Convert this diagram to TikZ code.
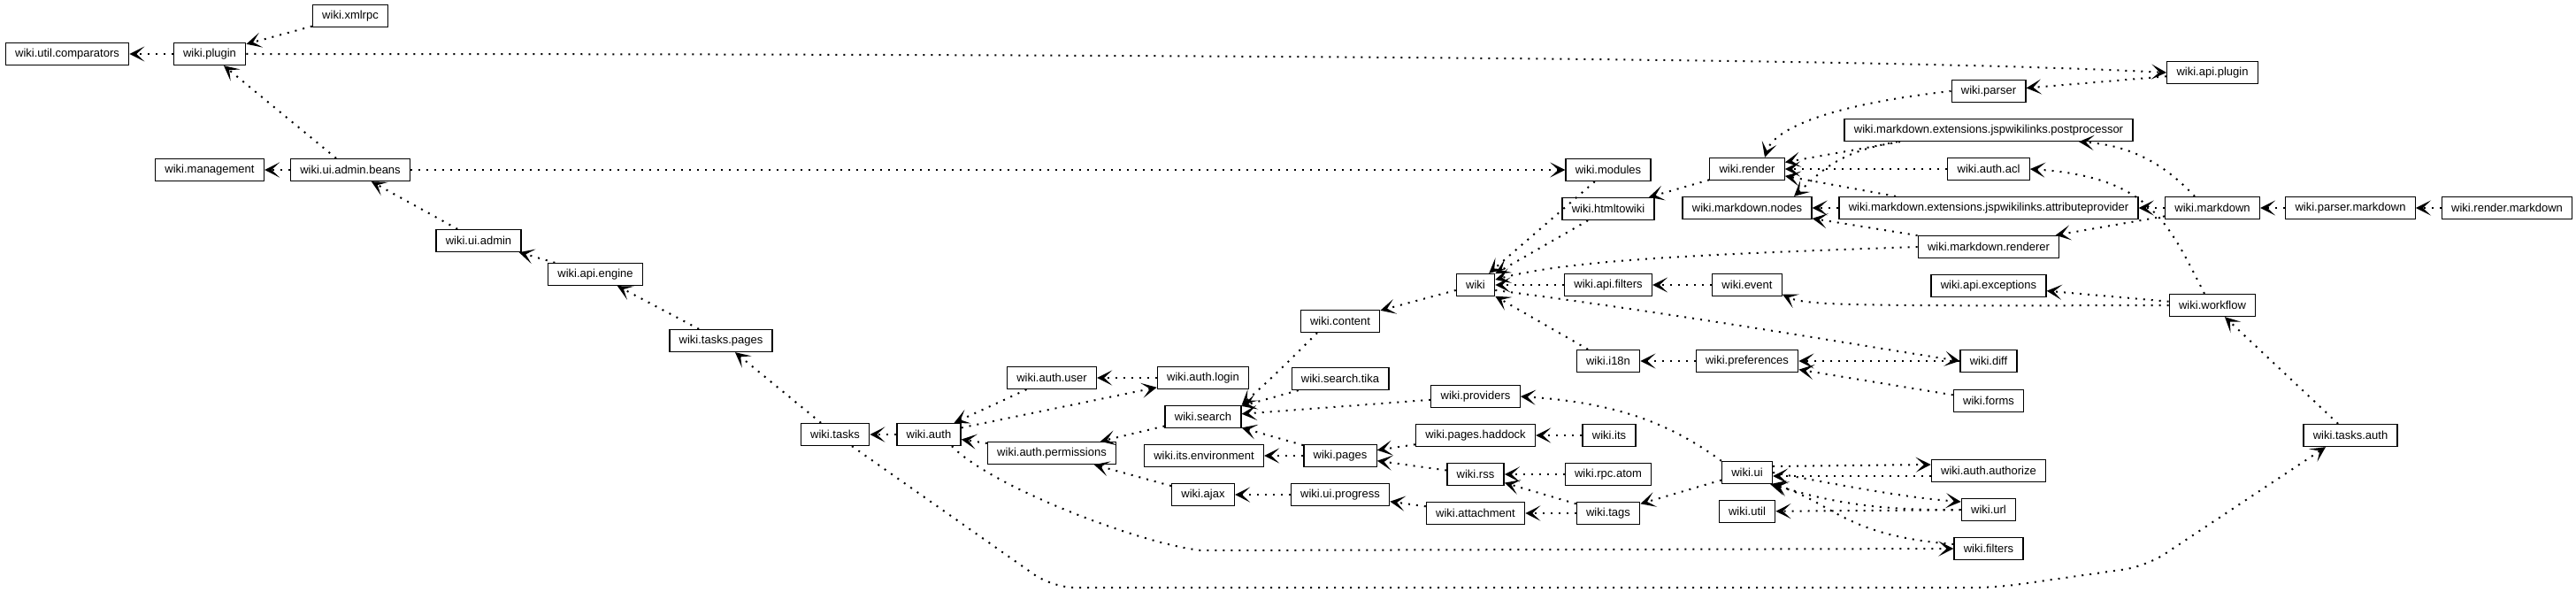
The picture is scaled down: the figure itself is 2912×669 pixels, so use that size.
\documentclass[tikz,border=0pt]{standalone}
\usepackage{fontspec}
\setmainfont{Liberation Sans}
\usetikzlibrary{arrows.meta}
\begin{document}
\begin{tikzpicture}[x=1pt,y=-1pt,
  pkg/.style={draw, line width=1.3pt, rectangle, minimum height=25pt, inner xsep=10.8pt, inner ysep=0pt, fill=white, font=\fontsize{13}{15}\selectfont},
  dep/.style={line width=2pt, dash pattern=on 2pt off 7pt, -{Stealth[length=17pt,width=17pt,inset=9pt]}}]
\fill[white] (0,0) rectangle (2912,669);
\useasboundingbox (0,0) rectangle (2912,669);

% nodes
\node[pkg] (comparators) at (76,61) {wiki.util.comparators};
\node[pkg] (plugin) at (237,61) {wiki.plugin};
\node[pkg] (xmlrpc) at (396,18) {wiki.xmlrpc};
\node[pkg] (management) at (237,192) {wiki.management};
\node[pkg] (uiadminbeans) at (396,192) {wiki.ui.admin.beans};
\node[pkg] (uiadmin) at (541,272) {wiki.ui.admin};
\node[pkg] (apiengine) at (673,310) {wiki.api.engine};
\node[pkg] (taskspages) at (815,385) {wiki.tasks.pages};
\node[pkg] (tasks) at (944,491) {wiki.tasks};
\node[pkg] (auth) at (1050,491) {wiki.auth};
\node[pkg] (authuser) at (1189,427) {wiki.auth.user};
\node[pkg] (authperm) at (1189,512) {wiki.auth.permissions};
\node[pkg] (authlogin) at (1360,427) {wiki.auth.login};
\node[pkg] (search) at (1360,471) {wiki.search};
\node[pkg] (itsenv) at (1361,515) {wiki.its.environment};
\node[pkg] (ajax) at (1360,559) {wiki.ajax};
\node[pkg] (content) at (1515,363) {wiki.content};
\node[pkg] (searchtika) at (1515,428) {wiki.search.tika};
\node[pkg] (pages) at (1515,515) {wiki.pages};
\node[pkg] (uiprogress) at (1515,559) {wiki.ui.progress};
\node[pkg] (wiki) at (1668,322) {wiki};
\node[pkg] (providers) at (1668,448) {wiki.providers};
\node[pkg] (haddock) at (1668,492) {wiki.pages.haddock};
\node[pkg] (rss) at (1668,536) {wiki.rss};
\node[pkg] (attachment) at (1668,580) {wiki.attachment};
\node[pkg] (modules) at (1818,192) {wiki.modules};
\node[pkg] (htmltowiki) at (1818,236) {wiki.htmltowiki};
\node[pkg] (apifilters) at (1818,322) {wiki.api.filters};
\node[pkg] (i18n) at (1818,408) {wiki.i18n};
\node[pkg] (its) at (1819,492) {wiki.its};
\node[pkg] (rpcatom) at (1818,536) {wiki.rpc.atom};
\node[pkg] (tags) at (1818,580) {wiki.tags};
\node[pkg] (render) at (1975,191) {wiki.render};
\node[pkg] (mdnodes) at (1975,235) {wiki.markdown.nodes};
\node[pkg] (event) at (1975,322) {wiki.event};
\node[pkg] (preferences) at (1975,408) {wiki.preferences};
\node[pkg] (ui) at (1975,534) {wiki.ui};
\node[pkg] (util) at (1975,578) {wiki.util};
\node[pkg] (parser) at (2248,103) {wiki.parser};
\node[pkg] (postproc) at (2248,147) {wiki.markdown.extensions.jspwikilinks.postprocessor};
\node[pkg] (authacl) at (2248,191) {wiki.auth.acl};
\node[pkg] (attrprov) at (2248,235) {wiki.markdown.extensions.jspwikilinks.attributeprovider};
\node[pkg] (mdrenderer) at (2248,279) {wiki.markdown.renderer};
\node[pkg] (apiexceptions) at (2248,323) {wiki.api.exceptions};
\node[pkg] (diff) at (2248,408) {wiki.diff};
\node[pkg] (forms) at (2248,453) {wiki.forms};
\node[pkg] (authorize) at (2248,532) {wiki.auth.authorize};
\node[pkg] (url) at (2248,576) {wiki.url};
\node[pkg] (filters) at (2248,620) {wiki.filters};
\node[pkg] (apiplugin) at (2501,82) {wiki.api.plugin};
\node[pkg] (markdown) at (2501,235) {wiki.markdown};
\node[pkg] (workflow) at (2501,345) {wiki.workflow};
\node[pkg] (parsermarkdown) at (2657,235) {wiki.parser.markdown};
\node[pkg] (tasksauth) at (2657,492) {wiki.tasks.auth};
\node[pkg] (rendermarkdown) at (2834,235) {wiki.render.markdown};

% edges
\draw[dep] (plugin) -- (comparators);
\draw[dep] (xmlrpc) -- (plugin);
\draw[dep] (plugin.east) .. controls (1800,61) and (2250,72) .. (apiplugin.west);
\draw[dep] (uiadminbeans) -- (plugin);
\draw[dep] (uiadminbeans) -- (management);
\draw[dep] (uiadminbeans) -- (modules);
\draw[dep] (uiadmin) -- (uiadminbeans);
\draw[dep] (apiengine) -- (uiadmin);
\draw[dep] (taskspages) -- (apiengine);
\draw[dep] (tasks) -- (taskspages);
\draw[dep] (auth) -- (tasks);
\draw[dep] (authuser) -- (auth);
\draw[dep] (authlogin) -- (authuser);
\draw[dep] (auth) -- (authlogin);
\draw[dep] (authperm) -- (auth);
\draw[dep] (search) -- (authperm);
\draw[dep] (ajax) -- (authperm);
\draw[dep] (searchtika) -- (search);
\draw[dep] ([xshift=-26pt]content.south) .. controls (1445,420) .. (search.north east);
\draw[dep] (providers) -- (search);
\draw[dep] (pages) -- (search);
\draw[dep] (pages) -- (itsenv);
\draw[dep] (haddock) -- (pages);
\draw[dep] (its) -- (haddock);
\draw[dep] (rss) -- (pages);
\draw[dep] (rpcatom) -- (rss);
\draw[dep] (tags) -- (rss);
\draw[dep] (tags) -- (attachment);
\draw[dep] (attachment) -- (uiprogress);
\draw[dep] (uiprogress) -- (ajax);
\draw[dep] (ui.north west) .. controls (1890,480) and (1830,455) .. (providers.east);
\draw[dep] (ui) -- (tags);
\draw[dep] (wiki) -- (content);
\draw[dep] (modules) -- (wiki);
\draw[dep] (htmltowiki) -- (wiki);
\draw[dep] (render) -- (htmltowiki);
\draw[dep] (mdrenderer.west) .. controls (1900,288) and (1770,295) .. (wiki.15);
\draw[dep] (apifilters) -- (wiki);
\draw[dep] (event) -- (apifilters);
\draw[dep] (wiki.-15) .. controls (1900,355) and (2100,390) .. (diff.west);
\draw[dep] (i18n) -- (wiki);
\draw[dep] (diff) -- (preferences);
\draw[dep] (forms) -- (preferences);
\draw[dep] (preferences) -- (i18n);
\draw[dep] (parser.west) .. controls (2070,118) and (2005,145) .. ([xshift=20pt]render.north);
\draw[dep] (apiplugin) -- (parser);
\draw[dep] ([xshift=-100pt]postproc.south) -- (render);
\draw[dep] ([xshift=-20pt]markdown.north) .. controls (2455,195) and (2420,165) .. ([xshift=102pt]postproc.south);
\draw[dep] ([xshift=-9pt]workflow.north) .. controls (2450,250) and (2430,200) .. (authacl.east);
\draw[dep] (authacl) -- (render);
\draw[dep] ([xshift=-105pt]attrprov.north) -- (render);
\draw[dep] ([xshift=-103pt]postproc.south) .. controls (2075,172) and (2058,195) .. ([xshift=53pt]mdnodes.north);
\draw[dep] (attrprov) -- (mdnodes);
\draw[dep] (markdown) -- (attrprov);
\draw[dep] (parsermarkdown) -- (markdown);
\draw[dep] (rendermarkdown) -- (parsermarkdown);
\draw[dep] (markdown) -- (mdrenderer);
\draw[dep] (mdrenderer) -- (mdnodes);
\draw[dep] (workflow) -- (apiexceptions);
\draw[dep] (workflow.west) .. controls (2080,346) and (2040,345) .. (event.-15);
\draw[dep] (tasksauth) -- (workflow);
\draw[dep, rounded corners=25pt] ([xshift=19pt]tasks.south) -- (1190,664) -- (2256,664) -- (2426,640) -- ([xshift=-28pt]tasksauth.south);
\draw[dep] ([xshift=26pt]auth.south) .. controls (1120,550) and (1290,615) .. (1358,622) -- (filters.west);
\draw[dep] ([yshift=7pt]ui.east) -- ([yshift=7pt]authorize.west);
\draw[dep] ([yshift=-6pt]authorize.west) -- ([yshift=-4pt]ui.east);
\draw[dep] (ui.east) .. controls (2080,548) and (2150,562) .. ([yshift=9pt]url.west);
\draw[dep] (url.west) .. controls (2110,578) and (2050,562) .. (ui.south east);
\draw[dep] (url) -- (util);
\draw[dep] ([yshift=5pt]filters.west) .. controls (2080,605) and (2070,565) .. ([xshift=-3pt]ui.south east);
\end{tikzpicture}
\end{document}
